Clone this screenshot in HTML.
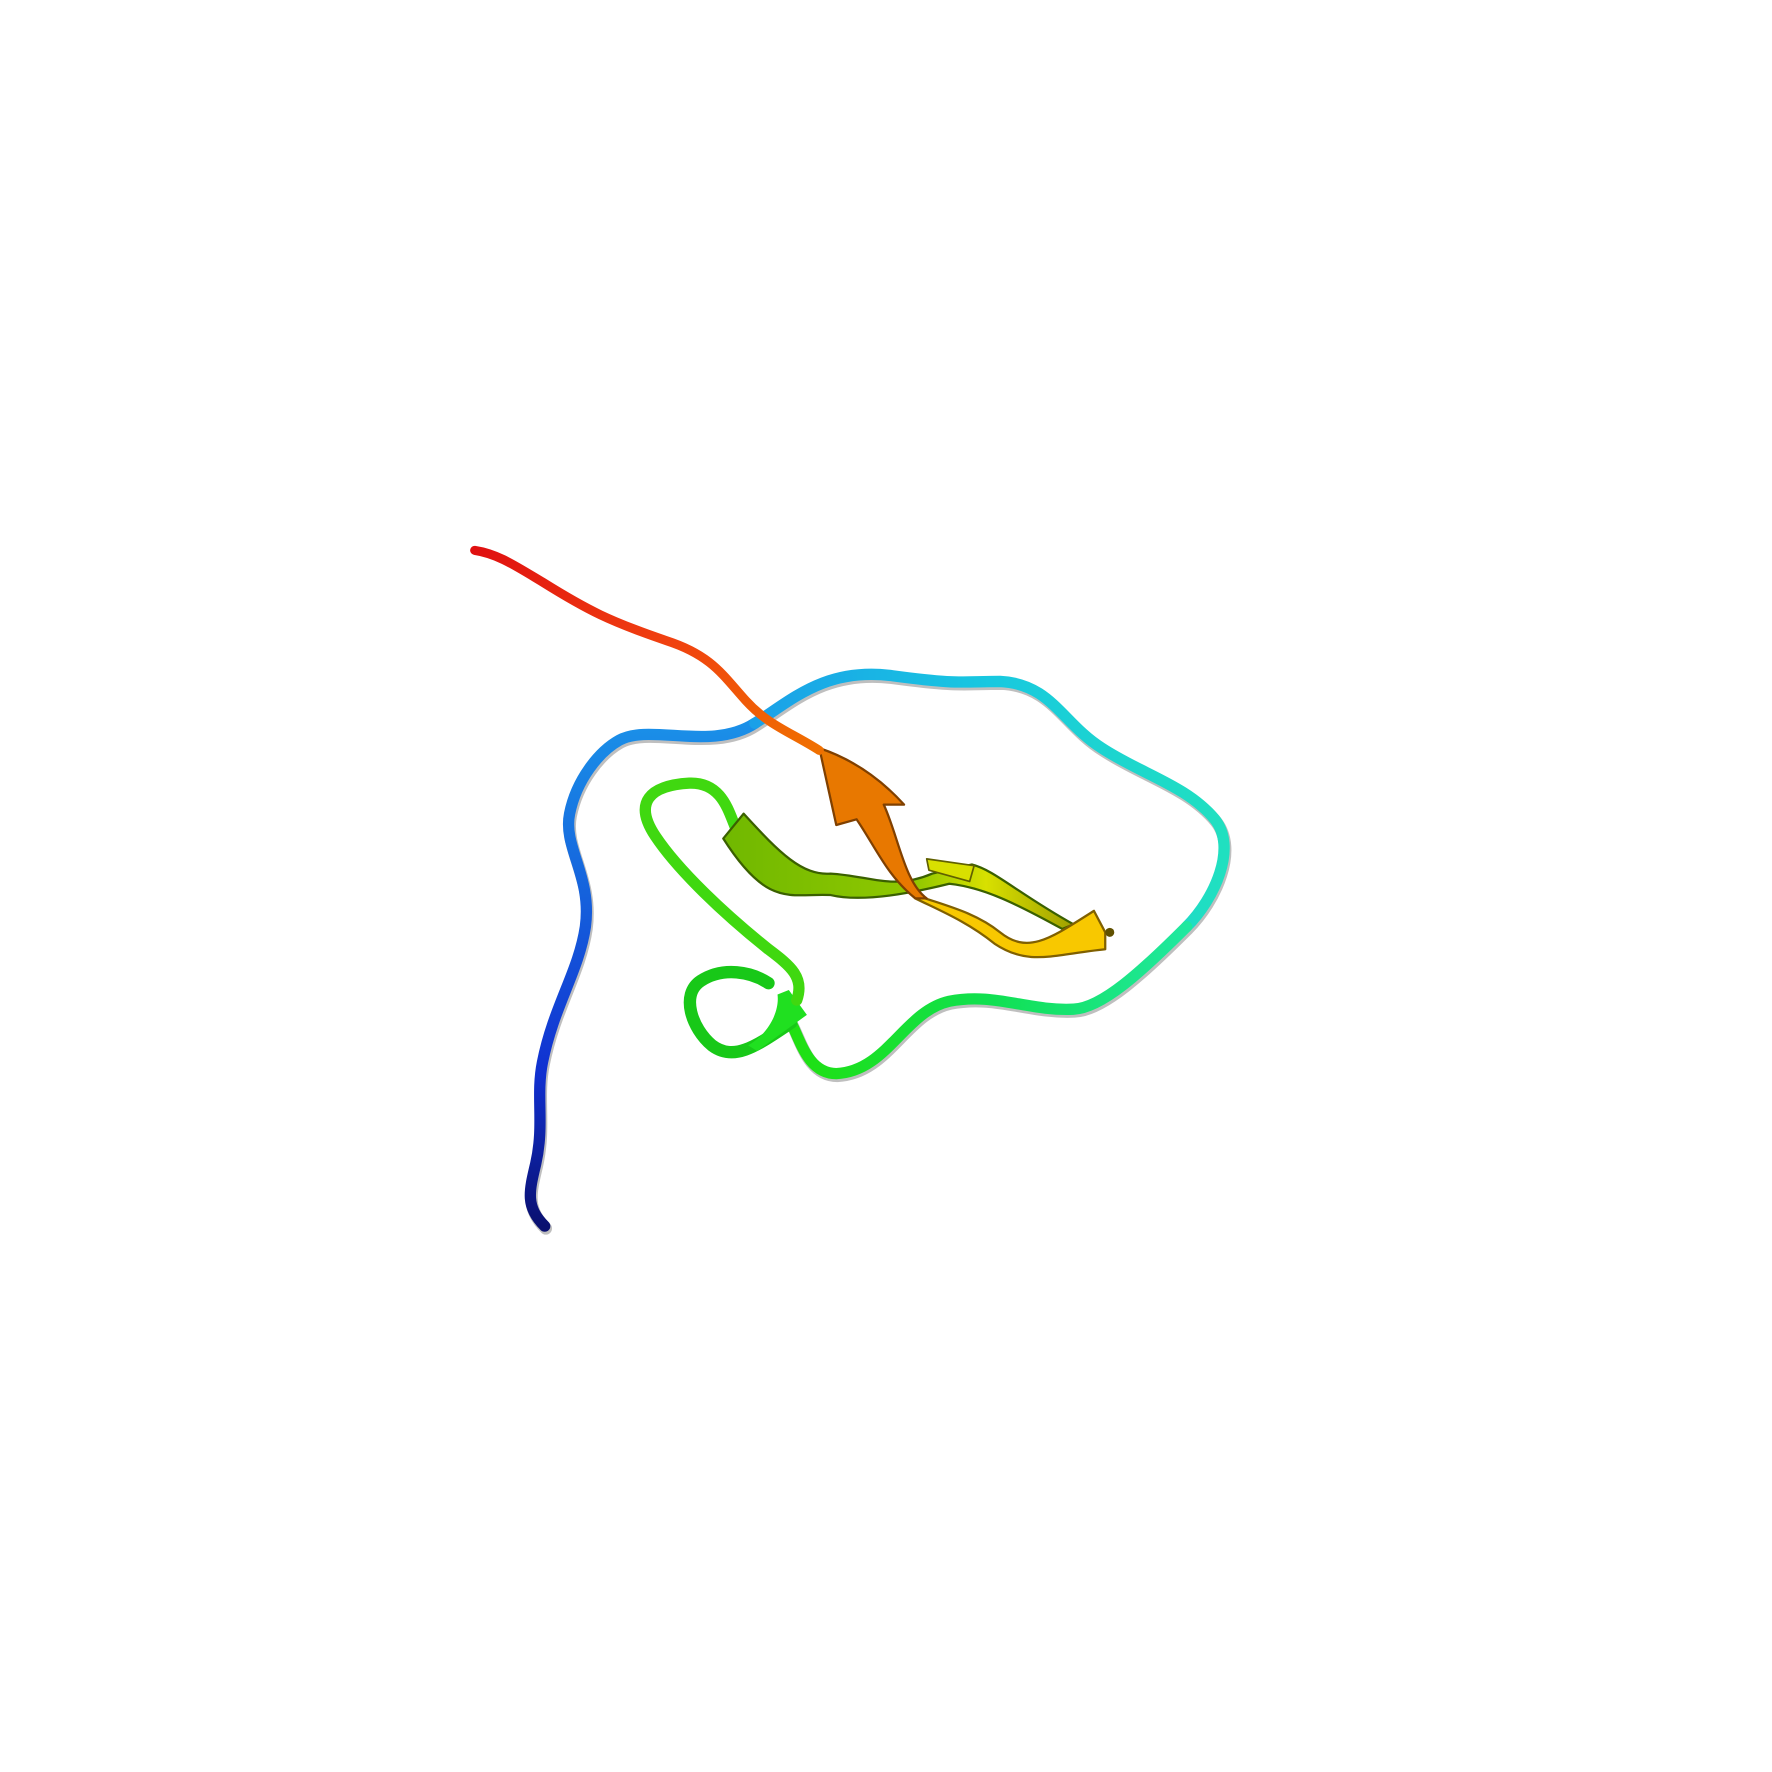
<!DOCTYPE html>
<html><head><meta charset="utf-8"><style>html,body{margin:0;padding:0;background:#fff}svg{display:block}</style></head>
<body>
<svg width="1772" height="1772" viewBox="0 0 1568 1568" xmlns="http://www.w3.org/2000/svg">
<defs>
<linearGradient id="gBlue" x1="0" y1="1" x2="0" y2="0"><stop offset="0" stop-color="#0a1070"/><stop offset="0.3" stop-color="#1030d0"/><stop offset="1" stop-color="#1a90e8"/></linearGradient>
<linearGradient id="gCyan" x1="0" y1="0" x2="1" y2="0"><stop offset="0" stop-color="#1aa0e8"/><stop offset="0.5" stop-color="#18c8e0"/><stop offset="1" stop-color="#20e0c0"/></linearGradient>
<linearGradient id="gGreen" x1="1" y1="0" x2="0" y2="0"><stop offset="0" stop-color="#20e8a0"/><stop offset="0.5" stop-color="#10e050"/><stop offset="1" stop-color="#20e010"/></linearGradient>
<linearGradient id="gRed" x1="1" y1="1" x2="0" y2="0"><stop offset="0" stop-color="#f07000"/><stop offset="0.5" stop-color="#f04010"/><stop offset="1" stop-color="#e01010"/></linearGradient>
<linearGradient id="gStrand" x1="0" y1="0" x2="1" y2="0"><stop offset="0" stop-color="#70b800"/><stop offset="0.55" stop-color="#90c800"/><stop offset="0.75" stop-color="#d8e000"/><stop offset="1" stop-color="#a0a000"/></linearGradient>
</defs>
<g fill="none" stroke-linecap="round" stroke-linejoin="round">
<g stroke="#000" stroke-opacity="0.25" stroke-width="11" transform="translate(1,2)">
<path d="M482,1085 C465,1068 468,1055 474,1030 C482,995 474,970 480,940 C490,890 512,860 518,820 C524,775 498,750 504,720 C510,690 530,665 548,655 C575,640 630,665 668,640 C700,620 730,590 790,598 C850,606 850,603 885,603 C930,605 940,640 975,662 C1010,685 1050,695 1075,725 C1095,750 1075,795 1050,820 C1010,860 975,892 950,893 C910,895 880,878 840,886 C800,895 785,948 740,950 C715,950 708,920 700,905"/>
</g>
<path stroke="url(#gBlue)" stroke-width="10" d="M482,1085 C465,1068 468,1055 474,1030 C482,995 474,970 480,940 C490,890 512,860 518,820 C524,775 498,750 504,720 C510,690 530,665 548,655 C575,640 630,665 668,640"/>
<path stroke="url(#gCyan)" stroke-width="10" d="M668,640 C700,620 730,590 790,598 C850,606 850,603 885,603 C930,605 940,640 975,662 C1010,685 1050,695 1075,725 C1095,750 1075,795 1050,820"/>
<path stroke="url(#gGreen)" stroke-width="10" d="M1050,820 C1010,860 975,892 950,893 C910,895 880,878 840,886 C800,895 785,948 740,950 C715,950 708,920 700,905"/>
<path stroke="#18c818" stroke-width="11" d="M700,905 C670,925 650,940 630,925 C612,910 602,880 620,868 C640,855 665,860 680,870"/>
<path fill="#20e020" stroke="none" d="M670,930 L714,898 L698,876 L688,880 C690,895 680,915 662,925 Z"/>
<path stroke="#40d810" stroke-width="10" d="M705,885 C712,865 700,855 680,840 C640,808 600,770 580,740 C560,710 575,695 610,693 C640,692 645,720 652,735"/>
<path fill="url(#gStrand)" stroke="#3a6000" stroke-width="2" d="M640,742 L658,720 C690,755 710,775 735,773 C770,775 790,788 825,773 L860,765 C880,770 900,790 950,818 L940,822 C900,800 870,785 840,782 C800,792 760,798 735,792 C700,790 680,805 640,742 Z"/>
<path fill="#d8e000" stroke="#606000" stroke-width="1.5" d="M820,760 L862,766 L858,780 L822,770 Z"/>
<path fill="#f8c800" stroke="#806000" stroke-width="2" d="M805,790 C830,800 860,805 885,825 C910,845 930,830 968,806 L978,825 L978,840 C930,845 910,855 880,835 C855,815 830,805 810,795 Z"/>
<path fill="#e87800" stroke="#804000" stroke-width="2" d="M820,795 C800,780 795,740 782,712 L800,712 C780,690 755,672 725,662 L740,730 L758,725 C775,750 785,775 810,795 Z"/>
<path stroke="url(#gRed)" stroke-width="8" d="M725,664 C700,648 680,642 660,620 C640,598 630,580 590,567 C540,550 520,540 480,515 C455,500 440,490 420,487"/>
<circle cx="982" cy="825" r="4" fill="#605000"/>
</g>
</svg>
</body></html>
